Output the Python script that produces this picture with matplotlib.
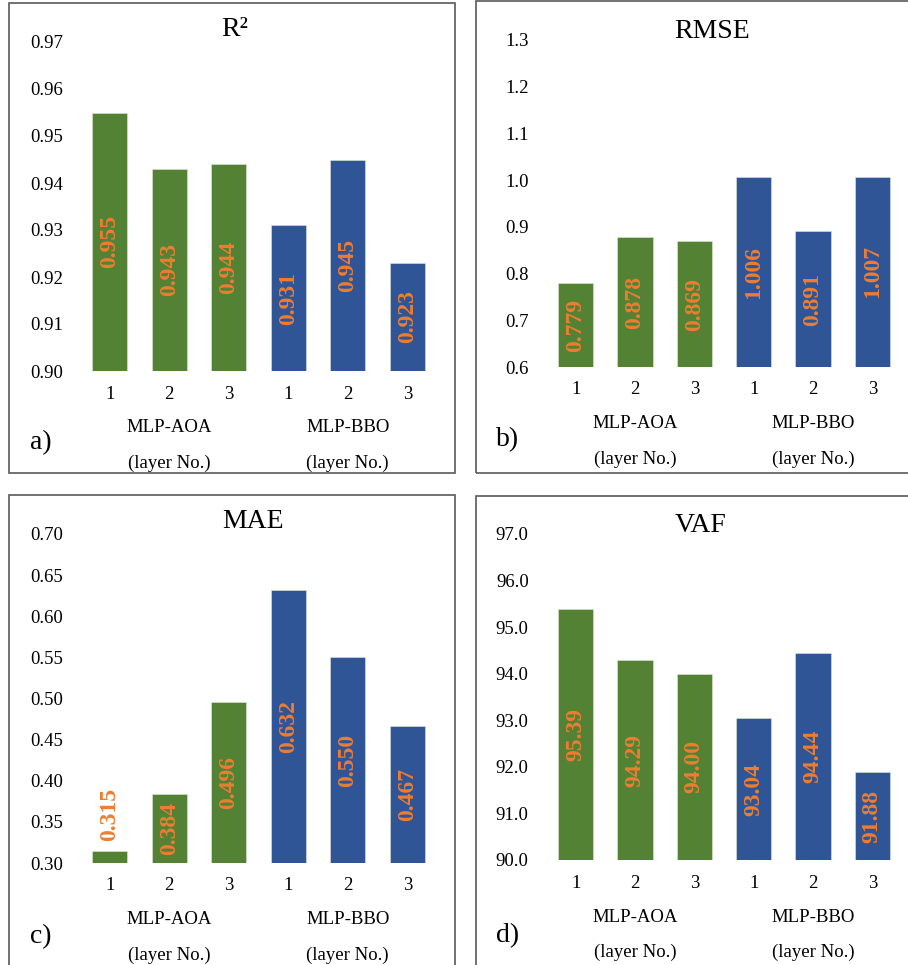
import numpy as np
import matplotlib
matplotlib.use('Agg')
import matplotlib.pyplot as plt
from matplotlib.patches import Rectangle
from matplotlib.transforms import blended_transform_factory

plt.rcParams['font.family'] = ['Liberation Serif', 'DejaVu Serif']

# Данные
layers = ['1', '2', '3', '1', '2', '3']
groups = ['MLP-AOA', 'MLP-BBO']
r2 = [0.955, 0.943, 0.944, 0.931, 0.945, 0.923]
rmse = [0.779, 0.878, 0.869, 1.006, 0.891, 1.007]
mae = [0.315, 0.384, 0.496, 0.632, 0.550, 0.467]
vaf = [95.39, 94.29, 94.00, 93.04, 94.44, 91.88]

green = '#548235'
blue = '#2F5597'
orange = '#ED7D31'
bar_colors = [green] * 3 + [blue] * 3

W, H = 908, 965
fig = plt.figure(figsize=(W / 100, H / 100), dpi=100)


def fx(px):
    return px / W


def fy(py):
    return 1 - py / H


# Рамки панелей (в пикселях)
frames = [(9, 3, 455, 473), (476, 1, 915, 473), (9, 495, 455, 975), (476, 496, 915, 975)]
for x0, y0, x1, y1 in frames:
    fig.patches.append(Rectangle((fx(x0), fy(y1)), fx(x1 - x0), (y1 - y0) / H,
                                 transform=fig.transFigure, fill=False,
                                 edgecolor='#595959', linewidth=1.2))

# left, top, right, bottom осей; подписи
panels = [
    dict(box=(80, 42, 437, 371), vals=r2, yt=np.arange(0.90, 0.975, 0.01), yfmt='%.2f',
         vfmt='%.3f', title='R²', tpos=(235, 30), letter='a)', lpos=(30, 443),
         xtick_y=394, grp_y=(428, 463)),
    dict(box=(546, 40, 902, 367), vals=rmse, yt=np.arange(0.6, 1.35, 0.1), yfmt='%.1f',
         vfmt='%.3f', title='RMSE', tpos=(712, 32), letter='b)', lpos=(496, 440),
         xtick_y=390, grp_y=(424, 459)),
    dict(box=(80, 534, 437, 863), vals=mae, yt=np.arange(0.30, 0.725, 0.05), yfmt='%.2f',
         vfmt='%.3f', title='MAE', tpos=(253, 522), letter='c)', lpos=(30, 937),
         xtick_y=886, grp_y=(920, 955)),
    dict(box=(546, 534, 902, 860), vals=vaf, yt=np.arange(90, 97.5, 1.0), yfmt='%.1f',
         vfmt='%.2f', title='VAF', tpos=(701, 526), letter='d)', lpos=(496, 936),
         xtick_y=883, grp_y=(917, 952)),
]

for p in panels:
    l, t, r, b = p['box']
    ax = fig.add_axes([fx(l), fy(b), fx(r - l), (b - t) / H])
    ymin, ymax = p['yt'][0], p['yt'][-1]
    x = np.arange(len(layers))
    vals = np.array(p['vals'])
    ax.bar(x, vals - ymin, bottom=ymin, width=0.59, color=bar_colors,
           edgecolor='#dfe8d5', linewidth=0.4)
    ax.set_xlim(-0.5, 5.5)
    ax.set_ylim(ymin, ymax)
    ax.set_yticks(p['yt'])
    ax.set_yticklabels([p['yfmt'] % v for v in p['yt']], fontsize=13.5)
    ax.set_xticks([])
    ax.tick_params(axis='y', length=0, pad=12.5)
    for s in ax.spines.values():
        s.set_visible(False)
    ax.patch.set_alpha(0)

    # подписи значений внутри столбцов
    span = ymax - ymin
    for i, v in enumerate(vals):
        if (v - ymin) / span > 0.2:
            ax.text(i, (v + ymin) / 2, p['vfmt'] % v, rotation=90, ha='center',
                    va='center', color=orange, fontsize=17, fontweight='bold')
        else:
            ax.text(i, v + span * 0.03, p['vfmt'] % v, rotation=90, ha='center',
                    va='bottom', color=orange, fontsize=17, fontweight='bold')

    # номера слоев и группы
    tr = blended_transform_factory(ax.transData, fig.transFigure)
    for i, lab in enumerate(layers):
        ax.text(i, fy(p['xtick_y']), lab, transform=tr, ha='center', va='center',
                fontsize=13.5)
    for k, g in enumerate(groups):
        ax.text(1 + 3 * k, fy(p['grp_y'][0]), g, transform=tr, ha='center',
                va='center', fontsize=13.5)
        ax.text(1 + 3 * k, fy(p['grp_y'][1]), '(layer No.)', transform=tr,
                ha='center', va='center', fontsize=13.5)

    fig.text(fx(p['tpos'][0]), fy(p['tpos'][1]), p['title'], ha='center',
             va='center', fontsize=20)
    fig.text(fx(p['lpos'][0]), fy(p['lpos'][1]), p['letter'], ha='left',
             va='center', fontsize=20)

fig.savefig('out.png', dpi=100)
